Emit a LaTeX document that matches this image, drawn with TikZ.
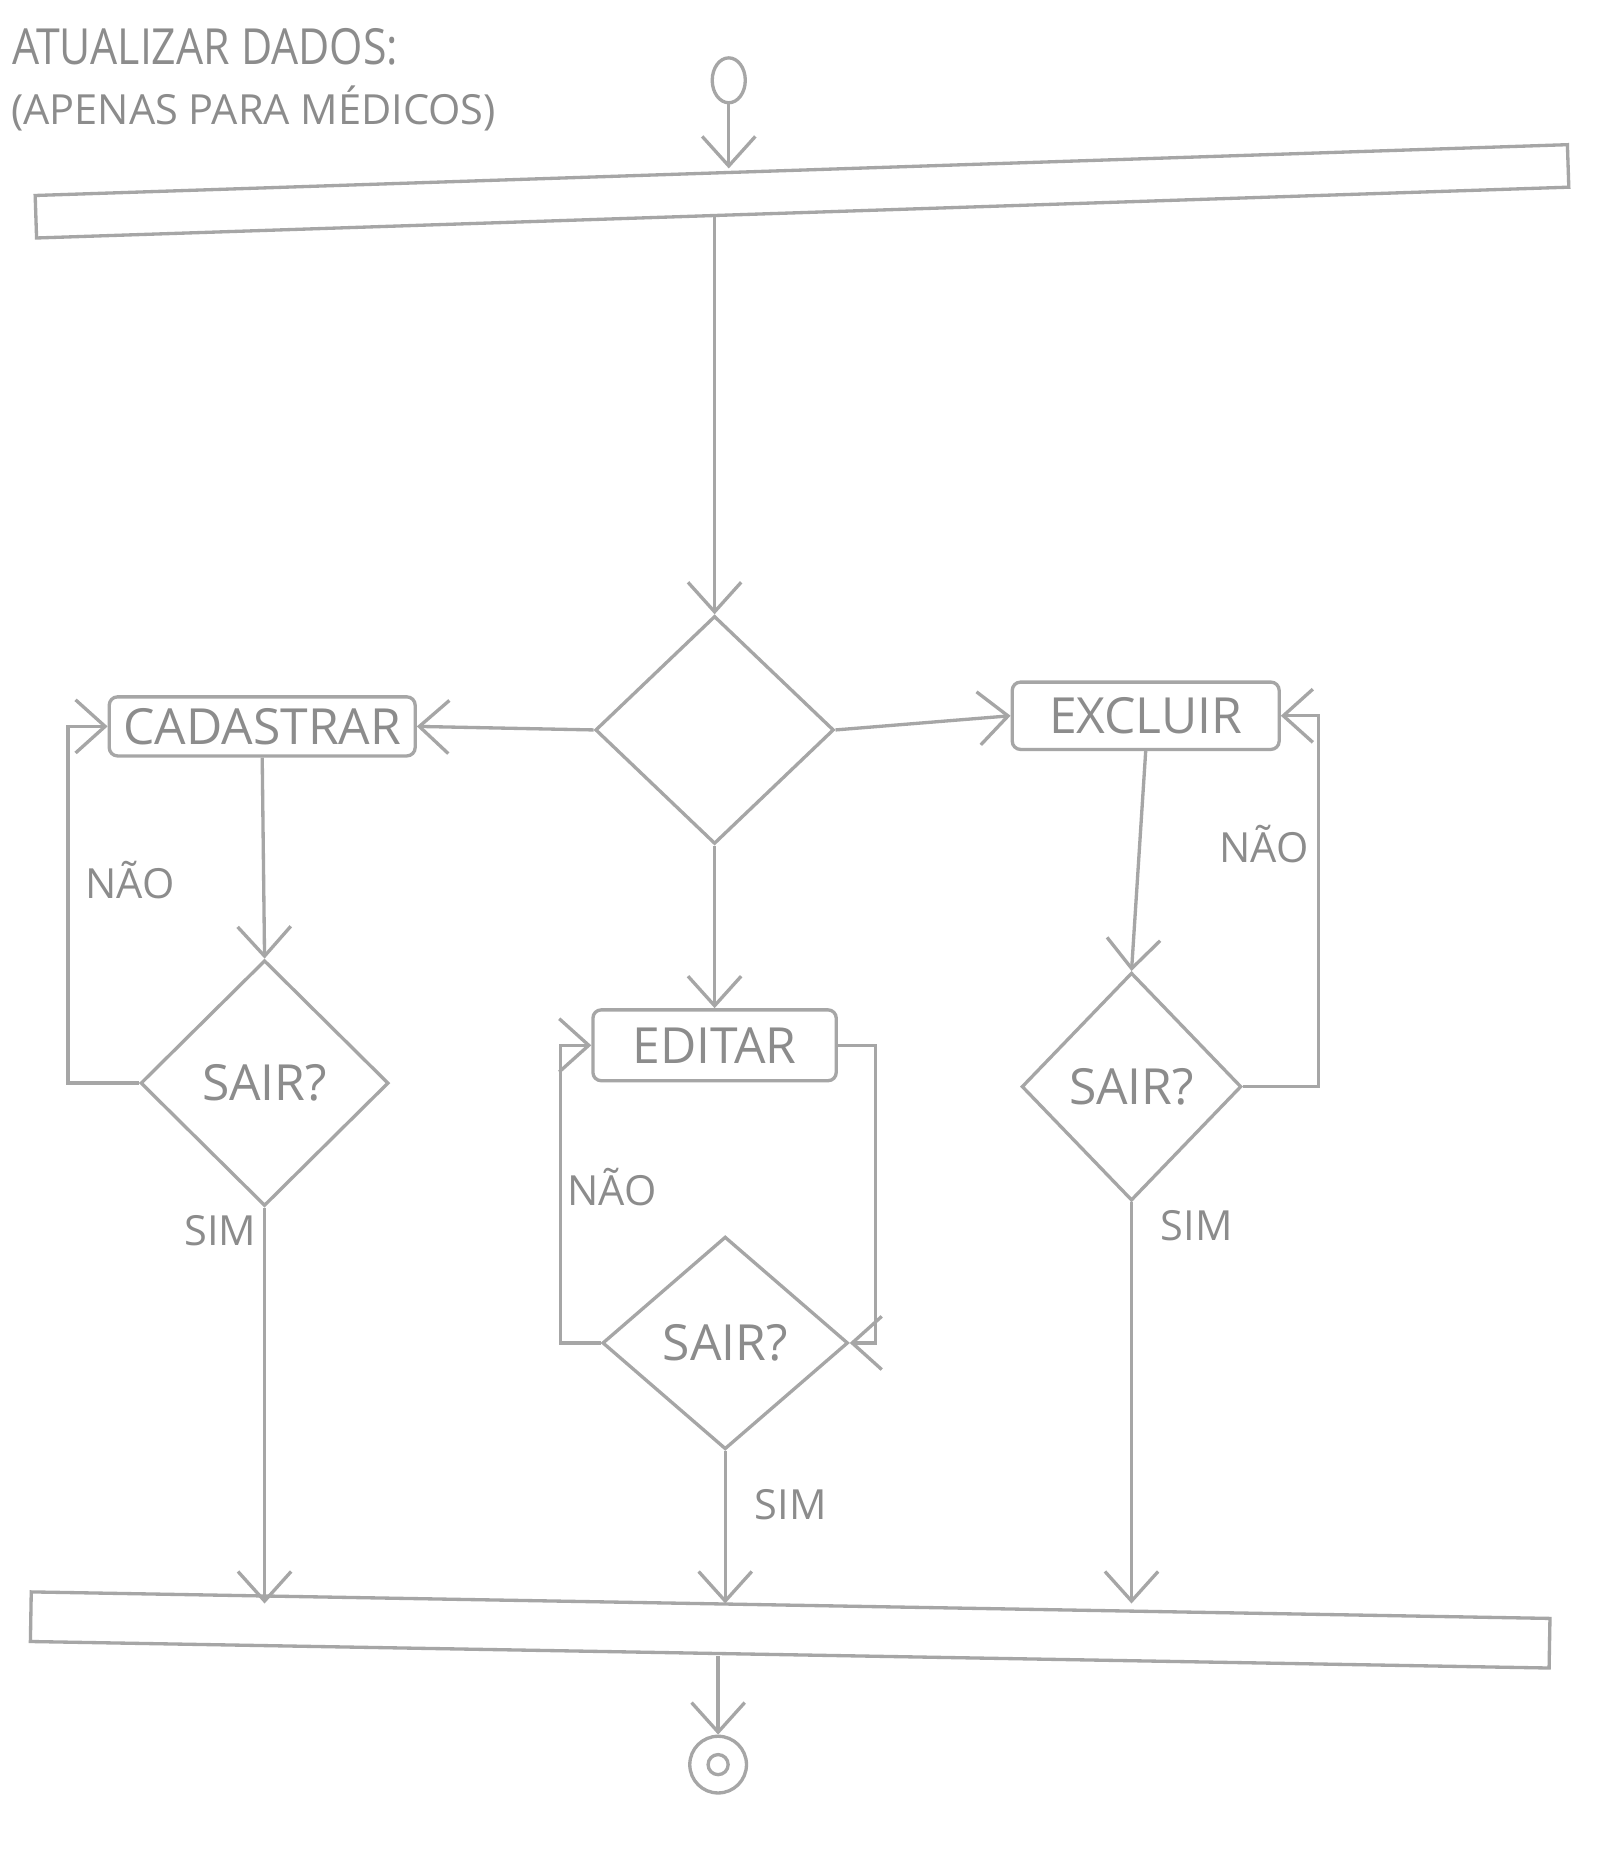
\documentclass[tikz,border=0pt]{standalone}
\usepackage{fontspec}
\setmainfont{Open Sans}
\usetikzlibrary{arrows.meta, positioning, shapes.geometric}
\definecolor{pencil}{HTML}{A6A6A6}
\definecolor{lead}{HTML}{8C8C8C}
\definecolor{paper}{HTML}{FFFFFF}

\begin{document}
\begin{tikzpicture}[>={Straight Barb[length=2.5mm, width=4.5mm]}, line width=0.8pt,
  actbox/.style={draw=pencil, rounded corners=2pt, inner sep=1pt,
    font=\fontsize{12}{14}\selectfont, text=lead},
  decbox/.style={diamond, draw=pencil, inner sep=0pt,
    font=\fontsize{12}{14}\selectfont, text=lead},
  barbox/.style={draw=pencil, minimum height=0.36cm, inner sep=0pt},
  guard/.style={font=\fontsize{10}{12}\selectfont, text=lead, inner sep=1pt},
  flow/.style={->, pencil}]

% Background
\fill[paper] (0,0) rectangle (13.58,-15.68);
\useasboundingbox (0,0) rectangle (13.58,-15.68);

% Title
\node[anchor=west, inner sep=0pt, font=\fontsize{12}{14}\selectfont, text=lead,
      xscale=0.86, transform shape] (title) at (0.09,-0.40) {ATUALIZAR DADOS:};
\node[anchor=west, inner sep=0pt, font=\fontsize{10}{12}\selectfont, text=lead] (subtitle) at (0.08,-0.92) {(APENAS PARA MÉDICOS)};

% ========== Start and fork ==========
\node[ellipse, draw=pencil, minimum width=0.28cm, minimum height=0.38cm, inner sep=0pt] (start) at (6.17,-0.68) {};
\node[barbox, minimum width=12.98cm, rotate=1.9] (fork) at (6.79,-1.62) {};

\draw[flow] (start) -- (start |- fork.north);

% Choice
\node[decbox, minimum width=2.02cm, minimum height=1.93cm] (dec) at (6.05,-6.18) {};
\draw[flow] (fork.south -| dec.north) -- (dec.north);

% ========== Three actions ==========
\node[actbox, minimum width=2.59cm, minimum height=0.50cm] (cad) at (2.22,-6.15) {CADASTRAR};
\node[actbox, minimum width=2.06cm, minimum height=0.60cm] (edit) at (6.05,-8.85) {EDITAR};
\node[actbox, minimum width=2.26cm, minimum height=0.57cm] (exc) at (9.70,-6.06) {EXCLUIR};

\draw[flow] (dec.west) -- (cad.east);
\draw[flow] (dec.east) -- (exc.west);
\draw[flow] (dec.south) -- (edit.north);

% ========== Exit checks ==========
\node[decbox, minimum width=2.10cm, minimum height=2.08cm] (sairC) at (2.24,-9.17) {SAIR?};
\node[decbox, minimum width=2.08cm, minimum height=1.80cm] (sairE) at (6.14,-11.37) {SAIR?};
\node[decbox, minimum width=1.86cm, minimum height=1.93cm] (sairX) at (9.58,-9.20) {SAIR?};

\draw[flow] (cad.south) -- (sairC.north);
\draw[flow] (edit.east) -- ++(0.32,0) |- (sairE.east);
\draw[flow] (exc.south) -- (sairX.north);

% Loops back
\draw[flow] (sairC.west) -- ++(-0.60,0) |- (cad.west);
\draw[flow] (sairE.west) -- ++(-0.34,0) |- (edit.west);
\draw[flow] (sairX.east) -- ++(0.64,0) |- (exc.east);

\node[guard] (naoC) at (1.10,-7.45) {NÃO};
\node[guard] (naoE) at (5.18,-10.05) {NÃO};
\node[guard] (naoX) at (10.70,-7.15) {NÃO};

% ========== Join and end ==========
\node[barbox, minimum width=12.86cm, minimum height=0.42cm, rotate=-1.0] (join) at (6.69,-13.80) {};

\draw[flow] (sairC.south) -- (sairC.south |- join.north);
\draw[flow] (sairE.south) -- (sairE.south |- join.north);
\draw[flow] (sairX.south) -- (sairX.south |- join.north);

\node[guard, below left=0.02cm and 0.02cm] (simC) at (sairC.south) {SIM};
\node[guard, below right=0.28cm and 0.2cm] (simE) at (sairE.south) {SIM};
\node[guard, below right=0.02cm and 0.2cm] (simX) at (sairX.south) {SIM};

\node[circle, draw=pencil, minimum size=0.48cm, inner sep=0pt] (stop) at (6.08,-14.94) {};
\node[circle, draw=pencil, minimum size=0.17cm, inner sep=0pt] (stopdot) at (stop.center) {};

\draw[flow] (join.south -| stop.north) -- (stop.north);

\end{tikzpicture}
\end{document}
